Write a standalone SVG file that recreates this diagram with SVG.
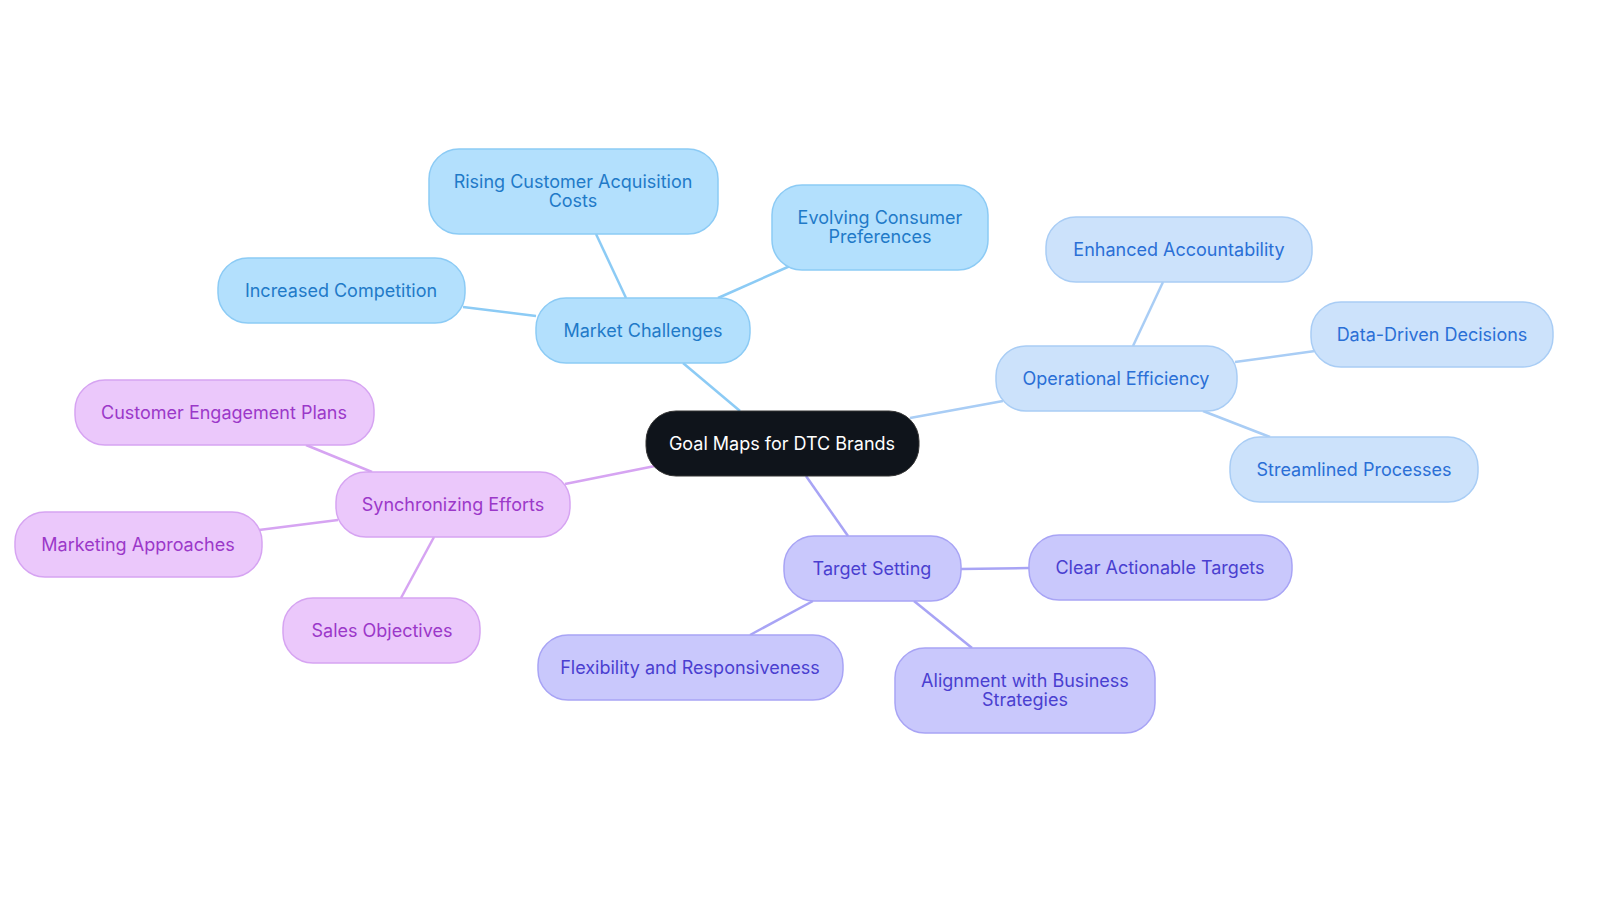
<svg xmlns="http://www.w3.org/2000/svg" width="1600" height="903" viewBox="0 0 1600 903">
<style>
text{font-family:"Inter","Liberation Sans",sans-serif;font-size:18px;text-anchor:middle;dominant-baseline:central}
.a rect{fill:#b3e0fd;stroke:#8ccbf5;stroke-width:1.5}.a text{fill:#1f7ac8}
.b rect{fill:#cce2fb;stroke:#a9cdf5;stroke-width:1.5}.b text{fill:#2a6fd6}
.c rect{fill:#c9c8fc;stroke:#a8a4f5;stroke-width:1.5}.c text{fill:#4a3fd0}
.d rect{fill:#ebc8fb;stroke:#d6a4f2;stroke-width:1.5}.d text{fill:#9b38c9}
.r rect{fill:#0f141b;stroke:#333}.r text{fill:#fff}
#edges line{stroke-width:2.5}
</style>
<g id="edges">
<line x1="740" y1="411" x2="683" y2="363" stroke="#8ccbf5"/>
<line x1="626" y1="298" x2="596" y2="234" stroke="#8ccbf5"/>
<line x1="718" y1="298" x2="790" y2="266" stroke="#8ccbf5"/>
<line x1="536" y1="316" x2="463" y2="307" stroke="#8ccbf5"/>
<line x1="910" y1="418" x2="1003" y2="401" stroke="#a9cdf5"/>
<line x1="1133" y1="346" x2="1163" y2="282" stroke="#a9cdf5"/>
<line x1="1235" y1="362" x2="1315" y2="351" stroke="#a9cdf5"/>
<line x1="1203" y1="411" x2="1270" y2="437" stroke="#a9cdf5"/>
<line x1="806" y1="476" x2="848" y2="536" stroke="#a8a4f5"/>
<line x1="961" y1="569" x2="1029" y2="568" stroke="#a8a4f5"/>
<line x1="813" y1="601" x2="750" y2="635" stroke="#a8a4f5"/>
<line x1="914" y1="601" x2="972" y2="648" stroke="#a8a4f5"/>
<line x1="655" y1="466" x2="565" y2="484" stroke="#d6a4f2"/>
<line x1="372" y1="472" x2="306" y2="445" stroke="#d6a4f2"/>
<line x1="338" y1="520" x2="259" y2="530" stroke="#d6a4f2"/>
<line x1="434" y1="537" x2="401" y2="598" stroke="#d6a4f2"/>
</g>
<g id="root" class="r"><rect x="646" y="411" width="273" height="65" rx="30"/><text x="782" y="443">Goal Maps for DTC Brands</text></g>
<g id="market" class="a"><rect x="536" y="298" width="214" height="65" rx="30"/><text x="643" y="330">Market Challenges</text></g>
<g id="rising" class="a"><rect x="429" y="149" width="289" height="85" rx="30"/><text x="573" y="181">Rising Customer Acquisition</text><text x="573" y="200">Costs</text></g>
<g id="evolving" class="a"><rect x="772" y="185" width="216" height="85" rx="30"/><text x="880" y="217">Evolving Consumer</text><text x="880" y="236">Preferences</text></g>
<g id="competition" class="a"><rect x="218" y="258" width="247" height="65" rx="30"/><text x="341" y="290">Increased Competition</text></g>
<g id="operational" class="b"><rect x="996" y="346" width="241" height="65" rx="30"/><text x="1116" y="378">Operational Efficiency</text></g>
<g id="accountability" class="b"><rect x="1046" y="217" width="266" height="65" rx="30"/><text x="1179" y="249">Enhanced Accountability</text></g>
<g id="datadriven" class="b"><rect x="1311" y="302" width="242" height="65" rx="30"/><text x="1432" y="334">Data-Driven Decisions</text></g>
<g id="streamlined" class="b"><rect x="1230" y="437" width="248" height="65" rx="30"/><text x="1354" y="469">Streamlined Processes</text></g>
<g id="target" class="c"><rect x="784" y="536" width="177" height="65" rx="30"/><text x="872" y="568">Target Setting</text></g>
<g id="clear" class="c"><rect x="1029" y="535" width="263" height="65" rx="30"/><text x="1160" y="567">Clear Actionable Targets</text></g>
<g id="flexibility" class="c"><rect x="538" y="635" width="305" height="65" rx="30"/><text x="690" y="667">Flexibility and Responsiveness</text></g>
<g id="alignment" class="c"><rect x="895" y="648" width="260" height="85" rx="30"/><text x="1025" y="680">Alignment with Business</text><text x="1025" y="699">Strategies</text></g>
<g id="sync" class="d"><rect x="336" y="472" width="234" height="65" rx="30"/><text x="453" y="504">Synchronizing Efforts</text></g>
<g id="engagement" class="d"><rect x="75" y="380" width="299" height="65" rx="30"/><text x="224" y="412">Customer Engagement Plans</text></g>
<g id="marketing" class="d"><rect x="15" y="512" width="247" height="65" rx="30"/><text x="138" y="544">Marketing Approaches</text></g>
<g id="sales" class="d"><rect x="283" y="598" width="197" height="65" rx="30"/><text x="382" y="630">Sales Objectives</text></g>
</svg>
